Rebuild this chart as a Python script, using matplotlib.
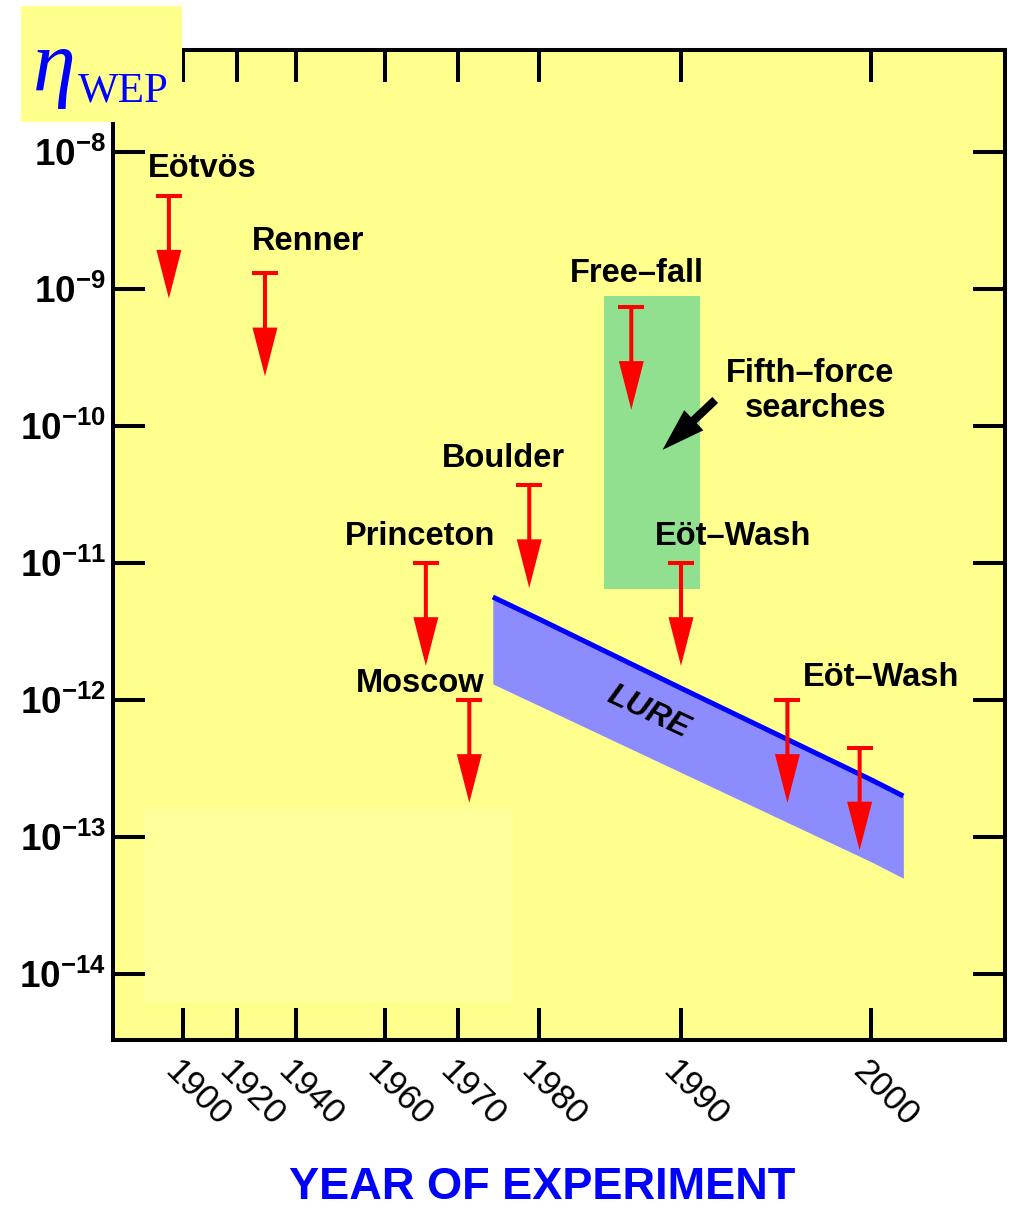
import numpy as np
import matplotlib
matplotlib.use("Agg")
import matplotlib.pyplot as plt
from matplotlib.transforms import ScaledTranslation
from matplotlib.patches import Rectangle

# --- data ---
exp_names = ["Eötvös", "Renner", "Princeton", "Moscow", "Boulder",
             "Free–fall", "Eöt–Wash", "Eöt–Wash", ""]
exp_years = [1894.8, 1929.5, 1965.6, 1971.4, 1978.8, 1986.5, 1990.0, 1995.6, 1999.4]
exp_limits = [4.8e-9, 1.3e-9, 1.0e-11, 1.0e-12, 3.7e-11, 7.4e-10, 1.0e-11, 1.0e-12, 4.5e-13]

lure_years = [1974.3, 1980, 1990, 2000, 2001.7]
lure_upper = [5.65e-12, 3.9e-12, 1.22e-12, 2.62e-13, 1.99e-13]
lure_lower = [1.31e-12, 9.1e-13, 2.96e-13, 6.6e-14, 5.0e-14]

fifth_years = [1984.6, 1991.0]
fifth_range = [6.45e-12, 8.9e-10]
fifth_arrow_tail = (1991.8, 1.55e-10)
fifth_arrow_tip = (1988.7, 6.7e-11)

tick_years = [1900, 1920, 1940, 1960, 1970, 1980, 1990, 2000]
y_exponents = [-8, -9, -10, -11, -12, -13, -14]

# --- layout ---
# the year axis of the original is stretched unevenly, map years -> position
warp_years = [1800] + tick_years + [2100]
warp_pos = [-87, 183, 237, 296, 385, 458, 539, 681, 871, 2771]
# label offsets from the cap of each arrow (pixels: dx, dy up to baseline)
label_off = [(33, 19), (43, 23), (-6, 18), (-49, 8), (-26, 18),
             (6, 25), (52, 18), (94, 14), (0, 0)]

YELLOW = "#ffff8e"
PX = 0.72  # points per pixel at dpi 100

plt.rcParams["font.family"] = ["Liberation Sans", "DejaVu Sans"]
plt.rcParams["mathtext.fontset"] = "custom"
plt.rcParams["mathtext.rm"] = "Liberation Sans:bold"
plt.rcParams["mathtext.bf"] = "Liberation Sans:bold"
plt.rcParams["mathtext.it"] = "Liberation Sans:bold:italic"

fig = plt.figure(figsize=(10.1, 12.09), dpi=100)
ax = fig.add_axes([113 / 1010, 1 - 1040 / 1209, 892 / 1010, 990 / 1209])
ax.set_facecolor(YELLOW)


def fwd(x):
    return np.interp(x, warp_years, warp_pos)


def inv(x):
    return np.interp(x, warp_pos, warp_years)


ax.set_xscale("function", functions=(fwd, inv))
ax.set_yscale("log")
ax.set_xlim(1874.1, 2007.05)
ax.set_ylim(10 ** -14.482, 10 ** -7.255)

# pale patch in the lower left of the original
ax.add_patch(Rectangle((0.0348, 0.0384), 0.4136, 0.1949, transform=ax.transAxes,
                       facecolor="#ffff9c", edgecolor="none", zorder=0.5))

# fifth-force searches box
ax.fill_between(fifth_years, fifth_range[0], fifth_range[1],
                color="#90e090", lw=0, zorder=1)

# LURE band
ax.fill_between(lure_years, lure_lower, lure_upper, color="#8c8cff", lw=0, zorder=1)
ax.plot(lure_years, lure_upper, color="#0000ff", lw=3.6, zorder=2,
        solid_capstyle="butt")
ax.text(1987.7, 8.2e-13, "LURE", rotation=-25, rotation_mode="anchor",
        ha="center", va="center", fontsize=23, fontweight="bold",
        style="italic", zorder=3)

# upper-limit arrows
ax.plot(exp_years, exp_limits, ls="none", marker="_", ms=19, mew=2.9,
        color="red", zorder=4)
tip_trans = ax.transData + ScaledTranslation(0, -74 / 72, fig.dpi_scale_trans)
for yr, lim, name, (dx, dy) in zip(exp_years, exp_limits, exp_names, label_off):
    ax.annotate("", xy=(yr, lim), xycoords=tip_trans, xytext=(yr, lim),
                textcoords="data",
                arrowprops=dict(arrowstyle="simple,head_length=35,head_width=18,tail_width=2.9",
                                mutation_scale=1, fc="red", ec="none",
                                shrinkA=0, shrinkB=0), zorder=4)
    if name:
        ax.annotate(name, xy=(yr, lim), xytext=(dx * PX, dy * PX),
                    textcoords="offset points", ha="center", va="baseline",
                    fontsize=23.5, fontweight="bold", zorder=5)

# fifth-force arrow and text
ax.annotate("", xy=fifth_arrow_tip, xytext=fifth_arrow_tail,
            arrowprops=dict(arrowstyle="simple,head_length=31,head_width=20,tail_width=6",
                            mutation_scale=1, fc="black", ec="none",
                            shrinkA=0, shrinkB=0), zorder=5)
ax.annotate("Fifth–force", xy=fifth_arrow_tail, xytext=(95 * PX, 18 * PX),
            textcoords="offset points", ha="center", va="baseline",
            fontsize=23.5, fontweight="bold")
ax.annotate("searches", xy=fifth_arrow_tail, xytext=(100 * PX, -17 * PX),
            textcoords="offset points", ha="center", va="baseline",
            fontsize=23.5, fontweight="bold")

# axes, ticks
for s in ax.spines.values():
    s.set_linewidth(2.9)
ax.set_xticks(tick_years)
ax.set_xticklabels([str(y) for y in tick_years], rotation=-45,
                   rotation_mode="anchor", ha="left", va="center", fontsize=25)
ax.set_yticks([10.0 ** e for e in y_exponents])
ax.set_yticklabels([r"$10^{%d}$" % e for e in y_exponents], fontsize=26.5)
ax.minorticks_off()
ax.tick_params(axis="both", which="major", direction="in", length=23,
               width=2.9, top=True, right=True)
ax.tick_params(axis="x", pad=19)
ax.tick_params(axis="y", pad=5)
for lbl in ax.get_xticklabels():
    lbl.set_transform(lbl.get_transform() +
                      ScaledTranslation(-13 / 100, 0, fig.dpi_scale_trans))

fig.text(542 / 1010, 1 / 1209, "YEAR OF EXPERIMENT", ha="center", va="bottom",
         color="#0000ff", fontsize=32.5, fontweight="bold")

# eta_WEP label box
fig.patches.append(Rectangle((21 / 1010, 1 - 122 / 1209), 161 / 1010, 116 / 1209,
                             transform=fig.transFigure, facecolor=YELLOW,
                             edgecolor="none", zorder=5))
fig.text(33 / 1010, 1 - 90 / 1209, "η", family="Liberation Serif", style="italic",
         color="#0000ff", fontsize=62, va="baseline", zorder=6)
fig.text(78 / 1010, 1 - 102 / 1209, "WEP", family="Liberation Serif",
         color="#0000ff", fontsize=31, va="baseline", zorder=6)

fig.savefig("out.png", dpi=100, facecolor="white")
